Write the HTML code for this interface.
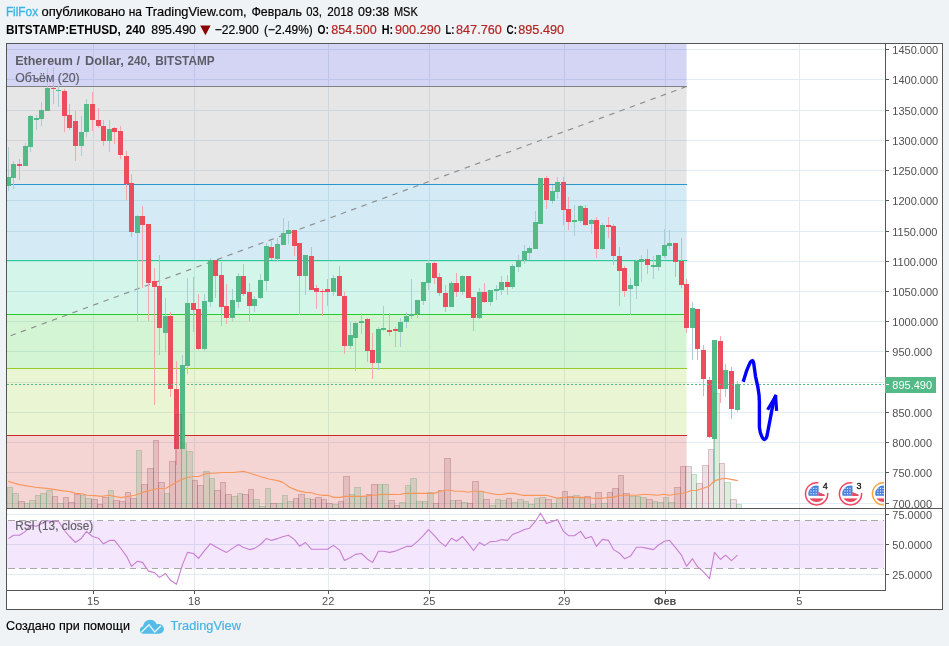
<!DOCTYPE html>
<html><head><meta charset="utf-8"><title>chart</title>
<style>html,body{margin:0;padding:0;background:#eff3f6;}body{width:949px;height:646px;overflow:hidden;position:relative;font-family:"Liberation Sans",sans-serif;}</style></head>
<body>
<svg width="949" height="646" viewBox="0 0 949 646" style="position:absolute;left:0;top:0;display:block;will-change:transform" font-family="Liberation Sans, sans-serif">
<rect x="0" y="0" width="949" height="646" fill="#eff3f6"/>
<rect x="6" y="43" width="937" height="567" fill="#fff"/>
<defs>
<clipPath id="cm"><rect x="7" y="44" width="877" height="464"/></clipPath>
<clipPath id="cr"><rect x="7" y="509" width="877" height="81"/></clipPath>
</defs>
<path d="M7 503.5H884 M7 472.5H884 M7 442.5H884 M7 412.5H884 M7 382.5H884 M7 351.5H884 M7 321.5H884 M7 291.5H884 M7 261.5H884 M7 231.5H884 M7 200.5H884 M7 170.5H884 M7 140.5H884 M7 110.5H884 M7 79.5H884 M7 49.5H884 M93.5 44V508 M93.5 509V590 M194.5 44V508 M194.5 509V590 M328.5 44V508 M328.5 509V590 M429.5 44V508 M429.5 509V590 M564.5 44V508 M564.5 509V590 M665.5 44V508 M665.5 509V590 M799.5 44V508 M799.5 509V590 M7 514.5H884 M7 544.5H884 M7 574.5H884" stroke="#e1ecf2" stroke-width="1" fill="none" shape-rendering="crispEdges"/>
<g clip-path="url(#cm)">
<rect x="6" y="-200" width="680.6" height="286.5" fill="rgba(40,40,204,0.2)"/>
<rect x="6" y="86.5" width="680.6" height="98.0" fill="rgba(128,128,128,0.2)"/>
<rect x="6" y="184.5" width="680.6" height="76.0" fill="rgba(40,149,204,0.2)"/>
<rect x="6" y="260.5" width="680.6" height="54.0" fill="rgba(40,204,149,0.2)"/>
<rect x="6" y="314.5" width="680.6" height="54.0" fill="rgba(40,204,40,0.2)"/>
<rect x="6" y="368.5" width="680.6" height="67.0" fill="rgba(149,204,40,0.2)"/>
<rect x="6" y="435.5" width="680.6" height="108.10000000000002" fill="rgba(204,40,40,0.2)"/>
<path d="M6 86.5H686.6" stroke="rgb(128,128,128)" stroke-width="1" shape-rendering="crispEdges"/>
<path d="M6 184.5H686.6" stroke="rgb(40,149,204)" stroke-width="1" shape-rendering="crispEdges"/>
<path d="M6 260.5H686.6" stroke="rgb(40,204,149)" stroke-width="1" shape-rendering="crispEdges"/>
<path d="M6 314.5H686.6" stroke="rgb(40,204,40)" stroke-width="1" shape-rendering="crispEdges"/>
<path d="M6 368.5H686.6" stroke="rgb(149,204,40)" stroke-width="1" shape-rendering="crispEdges"/>
<path d="M6 435.5H686.6" stroke="rgb(204,40,40)" stroke-width="1" shape-rendering="crispEdges"/>
<path d="M686.6 86.5 L6 337.4" stroke="#8e8e8e" stroke-width="1.15" stroke-dasharray="5.5 5.5" fill="none"/>
<path d="M8.5 147V191 M13.5 161V189 M25.5 143V166 M30.5 115V152 M36.5 115V130 M41.5 102V126 M47.5 68V111 M58.5 86V107 M81.5 116V156 M86.5 99V137 M109.5 120V152 M137.5 215V321 M165.5 298V352 M182.5 355V449 M187.5 278V374 M204.5 294V351 M210.5 258V307 M232.5 289V322 M238.5 273V308 M254.5 296V312 M260.5 274V299 M266.5 243V291 M277.5 238V261 M283.5 218V245 M288.5 221V244 M305.5 255V295 M333.5 275V296 M350.5 322V349 M355.5 321V371 M361.5 313V334 M378.5 327V370 M383.5 306V331 M400.5 318V347 M406.5 312V328 M411.5 279V319 M417.5 300V318 M423.5 282V305 M428.5 260V290 M451.5 281V307 M462.5 275V295 M479.5 288V319 M490.5 290V306 M496.5 285V300 M501.5 276V295 M512.5 264V289 M518.5 255V272 M524.5 245V264 M529.5 246V260 M535.5 211V249 M540.5 178V224 M552.5 185V204 M557.5 177V199 M574.5 205V236 M580.5 205V223 M591.5 219V234 M602.5 223V250 M630.5 278V315 M636.5 260V299 M641.5 255V282 M653.5 256V279 M658.5 255V271 M664.5 229V258 M669.5 230V249 M692.5 302V360 M714.5 340V483 M725.5 364V397 M737.5 381V412" stroke="#a9cdd3" stroke-width="1" shape-rendering="crispEdges"/>
<path d="M19.5 159V180 M53.5 67V104 M64.5 89V132 M69.5 104V130 M75.5 111V161 M92.5 92V131 M98.5 108V128 M103.5 120V146 M114.5 127V144 M120.5 126V159 M126.5 151V200 M131.5 174V237 M142.5 206V288 M148.5 224V321 M154.5 268V405 M159.5 255V355 M170.5 312V397 M176.5 361V465 M193.5 277V332 M198.5 294V350 M215.5 260V298 M221.5 262V326 M226.5 284V324 M243.5 264V296 M249.5 283V321 M271.5 241V260 M294.5 230V256 M299.5 243V315 M311.5 247V290 M316.5 285V309 M322.5 289V316 M327.5 279V306 M339.5 266V296 M344.5 292V354 M367.5 318V362 M372.5 333V379 M389.5 313V336 M395.5 327V347 M434.5 262V284 M439.5 273V296 M445.5 285V312 M456.5 273V297 M468.5 276V298 M473.5 297V331 M484.5 283V303 M507.5 275V295 M546.5 176V209 M563.5 177V225 M568.5 197V230 M585.5 205V226 M596.5 217V258 M608.5 217V238 M613.5 224V265 M619.5 247V306 M624.5 266V297 M647.5 249V274 M675.5 243V277 M681.5 238V288 M686.5 279V333 M697.5 309V360 M703.5 345V396 M709.5 377V438 M720.5 336V403 M731.5 367V419" stroke="#f5a6ae" stroke-width="1" shape-rendering="crispEdges"/>
<path d="M6 177h5V186h-5z M11 164h5V178h-5z M23 146h5V166h-5z M28 116h5V147h-5z M34 118h5V120h-5z M39 110h5V119h-5z M45 88h5V111h-5z M56 90h5V91h-5z M79 132h5V146h-5z M84 104h5V132h-5z M107 129h5V141h-5z M135 216h5V233h-5z M163 316h5V333h-5z M180 365h5V449h-5z M185 303h5V366h-5z M202 301h5V349h-5z M208 260h5V302h-5z M230 300h5V318h-5z M236 276h5V302h-5z M252 299h5V306h-5z M258 280h5V298h-5z M264 246h5V281h-5z M275 244h5V259h-5z M281 233h5V245h-5z M286 230h5V234h-5z M303 255h5V276h-5z M331 278h5V292h-5z M348 335h5V346h-5z M353 323h5V338h-5z M359 321h5V323h-5z M376 329h5V363h-5z M381 328h5V330h-5z M398 322h5V332h-5z M404 316h5V322h-5z M409 314h5V316h-5z M415 300h5V314h-5z M421 282h5V301h-5z M426 263h5V283h-5z M449 283h5V307h-5z M460 276h5V292h-5z M477 292h5V318h-5z M488 290h5V302h-5z M494 289h5V291h-5z M499 282h5V290h-5z M510 266h5V287h-5z M516 260h5V267h-5z M522 251h5V260h-5z M527 248h5V253h-5z M533 222h5V249h-5z M538 178h5V224h-5z M550 191h5V201h-5z M555 182h5V192h-5z M572 220h5V222h-5z M578 206h5V221h-5z M589 220h5V224h-5z M600 225h5V249h-5z M628 285h5V289h-5z M634 261h5V286h-5z M639 259h5V262h-5z M651 265h5V267h-5z M656 255h5V267h-5z M662 245h5V256h-5z M667 243h5V246h-5z M690 308h5V328h-5z M712 340h5V439h-5z M723 370h5V389h-5z M735 384h5V410h-5z" fill="#53b987" shape-rendering="crispEdges"/>
<path d="M17 164h5V166h-5z M51 88h5V89h-5z M62 91h5V116h-5z M67 115h5V128h-5z M73 121h5V146h-5z M90 104h5V120h-5z M96 120h5V126h-5z M101 126h5V141h-5z M112 128h5V132h-5z M118 131h5V155h-5z M124 156h5V184h-5z M129 183h5V232h-5z M140 216h5V225h-5z M146 224h5V283h-5z M152 281h5V287h-5z M157 286h5V328h-5z M168 316h5V389h-5z M174 389h5V449h-5z M191 303h5V310h-5z M196 309h5V349h-5z M213 260h5V276h-5z M219 275h5V307h-5z M224 306h5V318h-5z M241 276h5V294h-5z M247 292h5V306h-5z M269 247h5V258h-5z M292 230h5V246h-5z M297 243h5V276h-5z M309 256h5V290h-5z M314 288h5V292h-5z M320 291h5V292h-5z M325 289h5V292h-5z M337 276h5V296h-5z M342 296h5V346h-5z M365 319h5V351h-5z M370 350h5V363h-5z M387 330h5V332h-5z M393 329h5V331h-5z M432 263h5V278h-5z M437 277h5V293h-5z M443 293h5V307h-5z M454 283h5V292h-5z M466 276h5V298h-5z M471 297h5V318h-5z M482 292h5V302h-5z M505 282h5V287h-5z M544 178h5V200h-5z M561 182h5V210h-5z M566 209h5V222h-5z M583 208h5V225h-5z M594 220h5V249h-5z M606 225h5V227h-5z M611 226h5V256h-5z M617 256h5V271h-5z M622 268h5V291h-5z M645 259h5V265h-5z M673 243h5V262h-5z M679 261h5V285h-5z M684 284h5V328h-5z M695 309h5V349h-5z M701 350h5V379h-5z M707 380h5V437h-5z M718 341h5V389h-5z M729 371h5V409h-5z" fill="#eb4d5c" shape-rendering="crispEdges"/>
<rect x="7.5" y="487.5" width="5" height="21" fill="rgba(90,160,100,0.2)" stroke="rgba(90,160,100,0.3)" stroke-width="1"/>
<rect x="12.5" y="493.5" width="6" height="15" fill="rgba(90,160,100,0.2)" stroke="rgba(90,160,100,0.3)" stroke-width="1"/>
<rect x="18.5" y="501.5" width="6" height="7" fill="rgba(150,75,87,0.17)" stroke="rgba(150,75,87,0.3)" stroke-width="1"/>
<rect x="24.5" y="503.5" width="5" height="5" fill="rgba(90,160,100,0.2)" stroke="rgba(90,160,100,0.3)" stroke-width="1"/>
<rect x="29.5" y="500.5" width="6" height="8" fill="rgba(90,160,100,0.2)" stroke="rgba(90,160,100,0.3)" stroke-width="1"/>
<rect x="35.5" y="495.5" width="5" height="13" fill="rgba(90,160,100,0.2)" stroke="rgba(90,160,100,0.3)" stroke-width="1"/>
<rect x="40.5" y="493.5" width="6" height="15" fill="rgba(90,160,100,0.2)" stroke="rgba(90,160,100,0.3)" stroke-width="1"/>
<rect x="46.5" y="490.5" width="6" height="18" fill="rgba(90,160,100,0.2)" stroke="rgba(90,160,100,0.3)" stroke-width="1"/>
<rect x="52.5" y="496.5" width="5" height="12" fill="rgba(150,75,87,0.17)" stroke="rgba(150,75,87,0.3)" stroke-width="1"/>
<rect x="57.5" y="503.5" width="6" height="5" fill="rgba(90,160,100,0.2)" stroke="rgba(90,160,100,0.3)" stroke-width="1"/>
<rect x="63.5" y="497.5" width="5" height="11" fill="rgba(150,75,87,0.17)" stroke="rgba(150,75,87,0.3)" stroke-width="1"/>
<rect x="68.5" y="502.5" width="6" height="6" fill="rgba(150,75,87,0.17)" stroke="rgba(150,75,87,0.3)" stroke-width="1"/>
<rect x="74.5" y="494.5" width="6" height="14" fill="rgba(150,75,87,0.17)" stroke="rgba(150,75,87,0.3)" stroke-width="1"/>
<rect x="80.5" y="495.5" width="5" height="13" fill="rgba(90,160,100,0.2)" stroke="rgba(90,160,100,0.3)" stroke-width="1"/>
<rect x="85.5" y="498.5" width="6" height="10" fill="rgba(90,160,100,0.2)" stroke="rgba(90,160,100,0.3)" stroke-width="1"/>
<rect x="91.5" y="499.5" width="6" height="9" fill="rgba(150,75,87,0.17)" stroke="rgba(150,75,87,0.3)" stroke-width="1"/>
<rect x="97.5" y="504.5" width="5" height="4" fill="rgba(150,75,87,0.17)" stroke="rgba(150,75,87,0.3)" stroke-width="1"/>
<rect x="102.5" y="497.5" width="6" height="11" fill="rgba(150,75,87,0.17)" stroke="rgba(150,75,87,0.3)" stroke-width="1"/>
<rect x="108.5" y="490.5" width="5" height="18" fill="rgba(90,160,100,0.2)" stroke="rgba(90,160,100,0.3)" stroke-width="1"/>
<rect x="113.5" y="500.5" width="6" height="8" fill="rgba(150,75,87,0.17)" stroke="rgba(150,75,87,0.3)" stroke-width="1"/>
<rect x="119.5" y="501.5" width="6" height="7" fill="rgba(150,75,87,0.17)" stroke="rgba(150,75,87,0.3)" stroke-width="1"/>
<rect x="125.5" y="492.5" width="5" height="16" fill="rgba(150,75,87,0.17)" stroke="rgba(150,75,87,0.3)" stroke-width="1"/>
<rect x="130.5" y="498.5" width="6" height="10" fill="rgba(150,75,87,0.17)" stroke="rgba(150,75,87,0.3)" stroke-width="1"/>
<rect x="136.5" y="450.5" width="5" height="58" fill="rgba(90,160,100,0.2)" stroke="rgba(90,160,100,0.3)" stroke-width="1"/>
<rect x="141.5" y="484.5" width="6" height="24" fill="rgba(150,75,87,0.17)" stroke="rgba(150,75,87,0.3)" stroke-width="1"/>
<rect x="147.5" y="468.5" width="6" height="40" fill="rgba(150,75,87,0.17)" stroke="rgba(150,75,87,0.3)" stroke-width="1"/>
<rect x="153.5" y="440.5" width="5" height="68" fill="rgba(150,75,87,0.17)" stroke="rgba(150,75,87,0.3)" stroke-width="1"/>
<rect x="158.5" y="482.5" width="6" height="26" fill="rgba(150,75,87,0.17)" stroke="rgba(150,75,87,0.3)" stroke-width="1"/>
<rect x="164.5" y="493.5" width="5" height="15" fill="rgba(90,160,100,0.2)" stroke="rgba(90,160,100,0.3)" stroke-width="1"/>
<rect x="169.5" y="461.5" width="6" height="47" fill="rgba(150,75,87,0.17)" stroke="rgba(150,75,87,0.3)" stroke-width="1"/>
<rect x="175.5" y="414.5" width="6" height="94" fill="rgba(150,75,87,0.17)" stroke="rgba(150,75,87,0.3)" stroke-width="1"/>
<rect x="181.5" y="443.5" width="5" height="65" fill="rgba(90,160,100,0.2)" stroke="rgba(90,160,100,0.3)" stroke-width="1"/>
<rect x="186.5" y="451.5" width="6" height="57" fill="rgba(90,160,100,0.2)" stroke="rgba(90,160,100,0.3)" stroke-width="1"/>
<rect x="192.5" y="480.5" width="5" height="28" fill="rgba(150,75,87,0.17)" stroke="rgba(150,75,87,0.3)" stroke-width="1"/>
<rect x="197.5" y="485.5" width="6" height="23" fill="rgba(150,75,87,0.17)" stroke="rgba(150,75,87,0.3)" stroke-width="1"/>
<rect x="203.5" y="471.5" width="6" height="37" fill="rgba(90,160,100,0.2)" stroke="rgba(90,160,100,0.3)" stroke-width="1"/>
<rect x="209.5" y="478.5" width="5" height="30" fill="rgba(90,160,100,0.2)" stroke="rgba(90,160,100,0.3)" stroke-width="1"/>
<rect x="214.5" y="490.5" width="6" height="18" fill="rgba(150,75,87,0.17)" stroke="rgba(150,75,87,0.3)" stroke-width="1"/>
<rect x="220.5" y="482.5" width="5" height="26" fill="rgba(150,75,87,0.17)" stroke="rgba(150,75,87,0.3)" stroke-width="1"/>
<rect x="225.5" y="494.5" width="6" height="14" fill="rgba(150,75,87,0.17)" stroke="rgba(150,75,87,0.3)" stroke-width="1"/>
<rect x="231.5" y="496.5" width="6" height="12" fill="rgba(90,160,100,0.2)" stroke="rgba(90,160,100,0.3)" stroke-width="1"/>
<rect x="237.5" y="493.5" width="5" height="15" fill="rgba(90,160,100,0.2)" stroke="rgba(90,160,100,0.3)" stroke-width="1"/>
<rect x="242.5" y="494.5" width="6" height="14" fill="rgba(150,75,87,0.17)" stroke="rgba(150,75,87,0.3)" stroke-width="1"/>
<rect x="248.5" y="489.5" width="5" height="19" fill="rgba(150,75,87,0.17)" stroke="rgba(150,75,87,0.3)" stroke-width="1"/>
<rect x="253.5" y="499.5" width="6" height="9" fill="rgba(90,160,100,0.2)" stroke="rgba(90,160,100,0.3)" stroke-width="1"/>
<rect x="259.5" y="506.5" width="6" height="2" fill="rgba(90,160,100,0.2)" stroke="rgba(90,160,100,0.3)" stroke-width="1"/>
<rect x="265.5" y="488.5" width="5" height="20" fill="rgba(90,160,100,0.2)" stroke="rgba(90,160,100,0.3)" stroke-width="1"/>
<rect x="270.5" y="503.5" width="6" height="5" fill="rgba(150,75,87,0.17)" stroke="rgba(150,75,87,0.3)" stroke-width="1"/>
<rect x="276.5" y="503.5" width="6" height="5" fill="rgba(90,160,100,0.2)" stroke="rgba(90,160,100,0.3)" stroke-width="1"/>
<rect x="282.5" y="495.5" width="5" height="13" fill="rgba(90,160,100,0.2)" stroke="rgba(90,160,100,0.3)" stroke-width="1"/>
<rect x="287.5" y="501.5" width="6" height="7" fill="rgba(90,160,100,0.2)" stroke="rgba(90,160,100,0.3)" stroke-width="1"/>
<rect x="293.5" y="498.5" width="5" height="10" fill="rgba(150,75,87,0.17)" stroke="rgba(150,75,87,0.3)" stroke-width="1"/>
<rect x="298.5" y="494.5" width="6" height="14" fill="rgba(150,75,87,0.17)" stroke="rgba(150,75,87,0.3)" stroke-width="1"/>
<rect x="304.5" y="498.5" width="6" height="10" fill="rgba(90,160,100,0.2)" stroke="rgba(90,160,100,0.3)" stroke-width="1"/>
<rect x="310.5" y="499.5" width="5" height="9" fill="rgba(150,75,87,0.17)" stroke="rgba(150,75,87,0.3)" stroke-width="1"/>
<rect x="315.5" y="497.5" width="6" height="11" fill="rgba(150,75,87,0.17)" stroke="rgba(150,75,87,0.3)" stroke-width="1"/>
<rect x="321.5" y="499.5" width="5" height="9" fill="rgba(150,75,87,0.17)" stroke="rgba(150,75,87,0.3)" stroke-width="1"/>
<rect x="326.5" y="503.5" width="6" height="5" fill="rgba(150,75,87,0.17)" stroke="rgba(150,75,87,0.3)" stroke-width="1"/>
<rect x="332.5" y="504.5" width="6" height="4" fill="rgba(90,160,100,0.2)" stroke="rgba(90,160,100,0.3)" stroke-width="1"/>
<rect x="338.5" y="501.5" width="5" height="7" fill="rgba(150,75,87,0.17)" stroke="rgba(150,75,87,0.3)" stroke-width="1"/>
<rect x="343.5" y="476.5" width="6" height="32" fill="rgba(150,75,87,0.17)" stroke="rgba(150,75,87,0.3)" stroke-width="1"/>
<rect x="349.5" y="494.5" width="5" height="14" fill="rgba(90,160,100,0.2)" stroke="rgba(90,160,100,0.3)" stroke-width="1"/>
<rect x="354.5" y="487.5" width="6" height="21" fill="rgba(90,160,100,0.2)" stroke="rgba(90,160,100,0.3)" stroke-width="1"/>
<rect x="360.5" y="496.5" width="6" height="12" fill="rgba(90,160,100,0.2)" stroke="rgba(90,160,100,0.3)" stroke-width="1"/>
<rect x="366.5" y="494.5" width="5" height="14" fill="rgba(150,75,87,0.17)" stroke="rgba(150,75,87,0.3)" stroke-width="1"/>
<rect x="371.5" y="484.5" width="6" height="24" fill="rgba(150,75,87,0.17)" stroke="rgba(150,75,87,0.3)" stroke-width="1"/>
<rect x="377.5" y="484.5" width="5" height="24" fill="rgba(90,160,100,0.2)" stroke="rgba(90,160,100,0.3)" stroke-width="1"/>
<rect x="382.5" y="484.5" width="6" height="24" fill="rgba(90,160,100,0.2)" stroke="rgba(90,160,100,0.3)" stroke-width="1"/>
<rect x="388.5" y="500.5" width="6" height="8" fill="rgba(150,75,87,0.17)" stroke="rgba(150,75,87,0.3)" stroke-width="1"/>
<rect x="394.5" y="505.5" width="5" height="3" fill="rgba(150,75,87,0.17)" stroke="rgba(150,75,87,0.3)" stroke-width="1"/>
<rect x="399.5" y="502.5" width="6" height="6" fill="rgba(90,160,100,0.2)" stroke="rgba(90,160,100,0.3)" stroke-width="1"/>
<rect x="405.5" y="485.5" width="5" height="23" fill="rgba(90,160,100,0.2)" stroke="rgba(90,160,100,0.3)" stroke-width="1"/>
<rect x="410.5" y="478.5" width="6" height="30" fill="rgba(90,160,100,0.2)" stroke="rgba(90,160,100,0.3)" stroke-width="1"/>
<rect x="416.5" y="501.5" width="6" height="7" fill="rgba(90,160,100,0.2)" stroke="rgba(90,160,100,0.3)" stroke-width="1"/>
<rect x="422.5" y="501.5" width="5" height="7" fill="rgba(90,160,100,0.2)" stroke="rgba(90,160,100,0.3)" stroke-width="1"/>
<rect x="427.5" y="492.5" width="6" height="16" fill="rgba(90,160,100,0.2)" stroke="rgba(90,160,100,0.3)" stroke-width="1"/>
<rect x="433.5" y="503.5" width="5" height="5" fill="rgba(150,75,87,0.17)" stroke="rgba(150,75,87,0.3)" stroke-width="1"/>
<rect x="438.5" y="490.5" width="6" height="18" fill="rgba(150,75,87,0.17)" stroke="rgba(150,75,87,0.3)" stroke-width="1"/>
<rect x="444.5" y="458.5" width="6" height="50" fill="rgba(150,75,87,0.17)" stroke="rgba(150,75,87,0.3)" stroke-width="1"/>
<rect x="450.5" y="500.5" width="5" height="8" fill="rgba(90,160,100,0.2)" stroke="rgba(90,160,100,0.3)" stroke-width="1"/>
<rect x="455.5" y="500.5" width="6" height="8" fill="rgba(150,75,87,0.17)" stroke="rgba(150,75,87,0.3)" stroke-width="1"/>
<rect x="461.5" y="502.5" width="6" height="6" fill="rgba(90,160,100,0.2)" stroke="rgba(90,160,100,0.3)" stroke-width="1"/>
<rect x="467.5" y="503.5" width="5" height="5" fill="rgba(150,75,87,0.17)" stroke="rgba(150,75,87,0.3)" stroke-width="1"/>
<rect x="472.5" y="481.5" width="6" height="27" fill="rgba(150,75,87,0.17)" stroke="rgba(150,75,87,0.3)" stroke-width="1"/>
<rect x="478.5" y="491.5" width="5" height="17" fill="rgba(90,160,100,0.2)" stroke="rgba(90,160,100,0.3)" stroke-width="1"/>
<rect x="483.5" y="499.5" width="6" height="9" fill="rgba(150,75,87,0.17)" stroke="rgba(150,75,87,0.3)" stroke-width="1"/>
<rect x="489.5" y="505.5" width="6" height="3" fill="rgba(90,160,100,0.2)" stroke="rgba(90,160,100,0.3)" stroke-width="1"/>
<rect x="495.5" y="499.5" width="5" height="9" fill="rgba(90,160,100,0.2)" stroke="rgba(90,160,100,0.3)" stroke-width="1"/>
<rect x="500.5" y="500.5" width="6" height="8" fill="rgba(90,160,100,0.2)" stroke="rgba(90,160,100,0.3)" stroke-width="1"/>
<rect x="506.5" y="498.5" width="5" height="10" fill="rgba(150,75,87,0.17)" stroke="rgba(150,75,87,0.3)" stroke-width="1"/>
<rect x="511.5" y="502.5" width="6" height="6" fill="rgba(90,160,100,0.2)" stroke="rgba(90,160,100,0.3)" stroke-width="1"/>
<rect x="517.5" y="499.5" width="6" height="9" fill="rgba(90,160,100,0.2)" stroke="rgba(90,160,100,0.3)" stroke-width="1"/>
<rect x="523.5" y="501.5" width="5" height="7" fill="rgba(90,160,100,0.2)" stroke="rgba(90,160,100,0.3)" stroke-width="1"/>
<rect x="528.5" y="504.5" width="6" height="4" fill="rgba(90,160,100,0.2)" stroke="rgba(90,160,100,0.3)" stroke-width="1"/>
<rect x="534.5" y="498.5" width="5" height="10" fill="rgba(90,160,100,0.2)" stroke="rgba(90,160,100,0.3)" stroke-width="1"/>
<rect x="539.5" y="497.5" width="6" height="11" fill="rgba(90,160,100,0.2)" stroke="rgba(90,160,100,0.3)" stroke-width="1"/>
<rect x="545.5" y="499.5" width="6" height="9" fill="rgba(150,75,87,0.17)" stroke="rgba(150,75,87,0.3)" stroke-width="1"/>
<rect x="551.5" y="503.5" width="5" height="5" fill="rgba(90,160,100,0.2)" stroke="rgba(90,160,100,0.3)" stroke-width="1"/>
<rect x="556.5" y="498.5" width="6" height="10" fill="rgba(90,160,100,0.2)" stroke="rgba(90,160,100,0.3)" stroke-width="1"/>
<rect x="562.5" y="491.5" width="5" height="17" fill="rgba(150,75,87,0.17)" stroke="rgba(150,75,87,0.3)" stroke-width="1"/>
<rect x="567.5" y="496.5" width="6" height="12" fill="rgba(150,75,87,0.17)" stroke="rgba(150,75,87,0.3)" stroke-width="1"/>
<rect x="573.5" y="495.5" width="6" height="13" fill="rgba(90,160,100,0.2)" stroke="rgba(90,160,100,0.3)" stroke-width="1"/>
<rect x="579.5" y="498.5" width="5" height="10" fill="rgba(90,160,100,0.2)" stroke="rgba(90,160,100,0.3)" stroke-width="1"/>
<rect x="584.5" y="496.5" width="6" height="12" fill="rgba(150,75,87,0.17)" stroke="rgba(150,75,87,0.3)" stroke-width="1"/>
<rect x="590.5" y="504.5" width="5" height="4" fill="rgba(90,160,100,0.2)" stroke="rgba(90,160,100,0.3)" stroke-width="1"/>
<rect x="595.5" y="492.5" width="6" height="16" fill="rgba(150,75,87,0.17)" stroke="rgba(150,75,87,0.3)" stroke-width="1"/>
<rect x="601.5" y="503.5" width="6" height="5" fill="rgba(90,160,100,0.2)" stroke="rgba(90,160,100,0.3)" stroke-width="1"/>
<rect x="607.5" y="492.5" width="5" height="16" fill="rgba(150,75,87,0.17)" stroke="rgba(150,75,87,0.3)" stroke-width="1"/>
<rect x="612.5" y="488.5" width="6" height="20" fill="rgba(150,75,87,0.17)" stroke="rgba(150,75,87,0.3)" stroke-width="1"/>
<rect x="618.5" y="475.5" width="5" height="33" fill="rgba(150,75,87,0.17)" stroke="rgba(150,75,87,0.3)" stroke-width="1"/>
<rect x="623.5" y="493.5" width="6" height="15" fill="rgba(150,75,87,0.17)" stroke="rgba(150,75,87,0.3)" stroke-width="1"/>
<rect x="629.5" y="496.5" width="6" height="12" fill="rgba(90,160,100,0.2)" stroke="rgba(90,160,100,0.3)" stroke-width="1"/>
<rect x="635.5" y="496.5" width="5" height="12" fill="rgba(90,160,100,0.2)" stroke="rgba(90,160,100,0.3)" stroke-width="1"/>
<rect x="640.5" y="497.5" width="6" height="11" fill="rgba(90,160,100,0.2)" stroke="rgba(90,160,100,0.3)" stroke-width="1"/>
<rect x="646.5" y="499.5" width="6" height="9" fill="rgba(150,75,87,0.17)" stroke="rgba(150,75,87,0.3)" stroke-width="1"/>
<rect x="652.5" y="501.5" width="5" height="7" fill="rgba(90,160,100,0.2)" stroke="rgba(90,160,100,0.3)" stroke-width="1"/>
<rect x="657.5" y="502.5" width="6" height="6" fill="rgba(90,160,100,0.2)" stroke="rgba(90,160,100,0.3)" stroke-width="1"/>
<rect x="663.5" y="497.5" width="5" height="11" fill="rgba(90,160,100,0.2)" stroke="rgba(90,160,100,0.3)" stroke-width="1"/>
<rect x="668.5" y="502.5" width="6" height="6" fill="rgba(90,160,100,0.2)" stroke="rgba(90,160,100,0.3)" stroke-width="1"/>
<rect x="674.5" y="487.5" width="6" height="21" fill="rgba(150,75,87,0.17)" stroke="rgba(150,75,87,0.3)" stroke-width="1"/>
<rect x="680.5" y="466.5" width="5" height="42" fill="rgba(150,75,87,0.17)" stroke="rgba(150,75,87,0.3)" stroke-width="1"/>
<rect x="685.5" y="466.5" width="6" height="42" fill="rgba(150,75,87,0.17)" stroke="rgba(150,75,87,0.3)" stroke-width="1"/>
<rect x="691.5" y="474.5" width="5" height="34" fill="rgba(90,160,100,0.2)" stroke="rgba(90,160,100,0.3)" stroke-width="1"/>
<rect x="696.5" y="483.5" width="6" height="25" fill="rgba(150,75,87,0.17)" stroke="rgba(150,75,87,0.3)" stroke-width="1"/>
<rect x="702.5" y="465.5" width="6" height="43" fill="rgba(150,75,87,0.17)" stroke="rgba(150,75,87,0.3)" stroke-width="1"/>
<rect x="708.5" y="449.5" width="5" height="59" fill="rgba(150,75,87,0.17)" stroke="rgba(150,75,87,0.3)" stroke-width="1"/>
<rect x="713.5" y="393.5" width="6" height="115" fill="rgba(90,160,100,0.2)" stroke="rgba(90,160,100,0.3)" stroke-width="1"/>
<rect x="719.5" y="463.5" width="5" height="45" fill="rgba(150,75,87,0.17)" stroke="rgba(150,75,87,0.3)" stroke-width="1"/>
<rect x="724.5" y="482.5" width="6" height="26" fill="rgba(90,160,100,0.2)" stroke="rgba(90,160,100,0.3)" stroke-width="1"/>
<rect x="730.5" y="499.5" width="6" height="9" fill="rgba(150,75,87,0.17)" stroke="rgba(150,75,87,0.3)" stroke-width="1"/>
<rect x="736.5" y="504.5" width="5" height="4" fill="rgba(90,160,100,0.2)" stroke="rgba(90,160,100,0.3)" stroke-width="1"/>
<polyline points="8.1,481.3 19.2,484.6 35.4,487.2 48.7,488.6 63.4,490.9 70.8,491.7 75.2,493.4 81.9,493.7 87.0,495.2 94.4,495.6 101.8,496.4 109.1,495.3 120.9,497.6 128.3,496.4 135.0,495.2 144.7,491.9 156.5,488.7 166.1,488.3 169.8,486.0 178.7,480.9 186.8,477.5 193.4,476.5 198.6,476.5 205.2,474.0 209.6,473.2 215.5,473.2 221.4,472.5 233.2,472.5 243.6,471.3 252.4,474.0 262.7,477.2 268.8,479.0 277.7,480.6 282.9,482.4 289.5,487.2 298.3,490.9 305.7,492.4 311.6,492.7 316.8,494.5 321.9,495.3 327.8,495.3 333.7,497.4 340.4,497.4 344.1,496.4 363.2,496.4 372.1,495.3 378.0,494.9 382.4,494.2 400.3,494.5 404.7,493.4 434.2,493.4 440.1,491.2 445.3,490.2 450.5,490.2 454.9,491.2 462.3,491.2 468.2,492.2 472.6,491.2 481.4,491.2 487.3,492.7 496.2,494.5 502.1,494.5 508.0,493.4 513.9,493.4 522.7,495.3 546.5,495.3 556.9,498.1 564.2,497.4 584.9,497.4 592.3,498.3 602.6,498.3 608.5,497.4 612.9,497.4 620.3,495.2 636.5,495.2 642.4,494.5 648.3,494.5 657.4,495.3 664.0,494.2 669.2,495.3 679.5,493.7 685.4,492.7 691.3,490.5 697.2,490.2 703.1,488.3 709.0,486.3 714.2,480.9 719.3,479.4 725.2,478.2 731.1,479.4 737.8,480.6" fill="none" stroke="#f8975a" stroke-width="1.15" stroke-linejoin="round"/>
<path d="M7 384.5H885" stroke="#53b987" stroke-width="1" stroke-dasharray="2 2" shape-rendering="crispEdges"/>
<path d="M743.2 381.7 L746.3 371.7 Q748.5 366 750.1 362.6 Q752.4 358.6 753.6 362.5 L755.5 376.3 L757.9 387.2 Q759.4 395 759.4 402 L759.4 427.4 Q760 433 761.7 436.2 Q764.4 442.5 766.8 436.7 L769.5 422.8 L771.8 410.4 L774.1 399.5 L776 395" fill="none" stroke="#0000fe" stroke-width="3.4" stroke-linecap="butt" stroke-linejoin="round"/>
<path d="M767.6 409.8 L775.6 396.2 L776.6 410.8" fill="none" stroke="#0000fe" stroke-width="3.2" stroke-linejoin="round"/>
<g transform="translate(816.6 493.8)"><path d="M11.06 -0.97A11.1 11.1 0 1 1 1.93 -10.93" fill="none" stroke="#f5405f" stroke-width="1.5"/><clipPath id="fc"><circle r="8.3"/></clipPath><g clip-path="url(#fc)"><rect x="-9" y="-9" width="18" height="18" fill="#fff"/><rect x="-9" y="-9" width="11" height="11" fill="#4c82dc"/><rect x="-6.2" y="-6.0" width="1.2" height="1.2" fill="#dfe9fb"/><rect x="-6.2" y="-3.4" width="1.2" height="1.2" fill="#dfe9fb"/><rect x="-6.2" y="-0.8" width="1.2" height="1.2" fill="#dfe9fb"/><rect x="-3.6" y="-6.0" width="1.2" height="1.2" fill="#dfe9fb"/><rect x="-3.6" y="-3.4" width="1.2" height="1.2" fill="#dfe9fb"/><rect x="-3.6" y="-0.8" width="1.2" height="1.2" fill="#dfe9fb"/><rect x="-1.0" y="-6.0" width="1.2" height="1.2" fill="#dfe9fb"/><rect x="-1.0" y="-3.4" width="1.2" height="1.2" fill="#dfe9fb"/><rect x="-1.0" y="-0.8" width="1.2" height="1.2" fill="#dfe9fb"/><path d="M2 -1.5 L9 2 L-9 2 L2 2Z" fill="#e8485f"/><path d="M2 -1.6 L9 1.2 V2.2 H2Z" fill="#e8485f"/><rect x="-9" y="4.6" width="18" height="6" fill="#e8485f"/></g><text x="6.1" y="-4.9" font-size="9" fill="#111" stroke="#111" stroke-width="0.3">4</text></g>
<g transform="translate(850.5 493.8)"><path d="M11.06 -0.97A11.1 11.1 0 1 1 1.93 -10.93" fill="none" stroke="#f5405f" stroke-width="1.5"/><g clip-path="url(#fc)"><rect x="-9" y="-9" width="18" height="18" fill="#fff"/><rect x="-9" y="-9" width="11" height="11" fill="#4c82dc"/><rect x="-6.2" y="-6.0" width="1.2" height="1.2" fill="#dfe9fb"/><rect x="-6.2" y="-3.4" width="1.2" height="1.2" fill="#dfe9fb"/><rect x="-6.2" y="-0.8" width="1.2" height="1.2" fill="#dfe9fb"/><rect x="-3.6" y="-6.0" width="1.2" height="1.2" fill="#dfe9fb"/><rect x="-3.6" y="-3.4" width="1.2" height="1.2" fill="#dfe9fb"/><rect x="-3.6" y="-0.8" width="1.2" height="1.2" fill="#dfe9fb"/><rect x="-1.0" y="-6.0" width="1.2" height="1.2" fill="#dfe9fb"/><rect x="-1.0" y="-3.4" width="1.2" height="1.2" fill="#dfe9fb"/><rect x="-1.0" y="-0.8" width="1.2" height="1.2" fill="#dfe9fb"/><path d="M2 -1.5 L9 2 L-9 2 L2 2Z" fill="#e8485f"/><path d="M2 -1.6 L9 1.2 V2.2 H2Z" fill="#e8485f"/><rect x="-9" y="4.6" width="18" height="6" fill="#e8485f"/></g><text x="6.1" y="-4.9" font-size="9" fill="#111" stroke="#111" stroke-width="0.3">3</text></g>
<g transform="translate(883.5 493.8)"><path d="M11.06 -0.97A11.1 11.1 0 1 1 1.93 -10.93" fill="none" stroke="#f7a43a" stroke-width="1.5"/><g clip-path="url(#fc)"><rect x="-9" y="-9" width="18" height="18" fill="#fff"/><rect x="-9" y="-9" width="11" height="11" fill="#4c82dc"/><rect x="-6.2" y="-6.0" width="1.2" height="1.2" fill="#dfe9fb"/><rect x="-6.2" y="-3.4" width="1.2" height="1.2" fill="#dfe9fb"/><rect x="-6.2" y="-0.8" width="1.2" height="1.2" fill="#dfe9fb"/><rect x="-3.6" y="-6.0" width="1.2" height="1.2" fill="#dfe9fb"/><rect x="-3.6" y="-3.4" width="1.2" height="1.2" fill="#dfe9fb"/><rect x="-3.6" y="-0.8" width="1.2" height="1.2" fill="#dfe9fb"/><rect x="-1.0" y="-6.0" width="1.2" height="1.2" fill="#dfe9fb"/><rect x="-1.0" y="-3.4" width="1.2" height="1.2" fill="#dfe9fb"/><rect x="-1.0" y="-0.8" width="1.2" height="1.2" fill="#dfe9fb"/><path d="M2 -1.5 L9 2 L-9 2 L2 2Z" fill="#e8485f"/><path d="M2 -1.6 L9 1.2 V2.2 H2Z" fill="#e8485f"/><rect x="-9" y="4.6" width="18" height="6" fill="#e8485f"/></g></g>
</g>
<g clip-path="url(#cr)">
<rect x="6" y="520.5" width="879" height="48.1" fill="rgba(170,60,230,0.13)"/>
<path d="M8 520.5H885" stroke="#a8a8a8" stroke-width="1" stroke-dasharray="6.5 4.57" shape-rendering="crispEdges"/>
<path d="M8 568.5H885" stroke="#a8a8a8" stroke-width="1" stroke-dasharray="6.5 4.57" shape-rendering="crispEdges"/>
<polyline points="8.5,538.6 13.5,535.3 19.5,535.3 25.5,531.4 30.5,525.4 36.5,526.3 41.5,523.4 47.5,520.7 53.5,521.5 58.5,521.5 64.5,530.5 69.5,536.5 75.5,542.5 81.5,538.2 86.5,531.4 92.5,536.5 98.5,538.2 103.5,543.8 109.5,540.4 114.5,540.4 120.5,548.0 126.5,556.1 131.5,566.3 137.5,561.2 142.5,562.4 148.5,571.1 154.5,572.6 159.5,577.4 165.5,573.5 170.5,580.3 176.5,584.2 182.5,564.6 187.5,552.4 193.5,553.5 198.5,558.3 204.5,550.6 210.5,543.7 215.5,546.7 221.5,550.1 226.5,552.4 232.5,548.4 238.5,544.5 243.5,547.6 249.5,549.6 254.5,548.4 260.5,544.5 266.5,538.4 271.5,540.4 277.5,538.6 283.5,536.5 288.5,535.3 294.5,539.6 299.5,546.2 305.5,542.5 311.5,549.3 316.5,549.3 322.5,549.3 327.5,549.3 333.5,545.4 339.5,550.1 344.5,560.4 350.5,557.5 355.5,554.4 361.5,553.5 367.5,559.2 372.5,562.4 378.5,551.3 383.5,551.3 389.5,552.4 395.5,551.1 400.5,549.0 406.5,546.4 411.5,546.4 417.5,541.3 423.5,535.3 428.5,529.7 434.5,535.7 439.5,541.6 445.5,546.4 451.5,538.2 456.5,541.3 462.5,536.5 468.5,543.8 473.5,550.5 479.5,542.5 484.5,545.4 490.5,541.6 496.5,541.3 501.5,539.6 507.5,540.4 512.5,534.5 518.5,532.2 524.5,529.5 529.5,528.2 535.5,521.2 540.5,513.2 546.5,523.4 552.5,521.5 557.5,519.5 563.5,531.4 568.5,535.7 574.5,535.7 580.5,531.4 585.5,538.6 591.5,536.5 596.5,546.4 602.5,539.4 608.5,540.4 613.5,549.6 619.5,553.2 624.5,558.7 630.5,556.1 636.5,547.2 641.5,547.2 647.5,548.4 653.5,549.6 658.5,545.0 664.5,541.3 669.5,540.3 675.5,547.6 681.5,555.2 686.5,566.3 692.5,558.7 697.5,566.7 703.5,571.8 709.5,578.6 714.5,552.4 720.5,559.5 725.5,555.2 731.5,560.7 737.5,555.2" fill="none" stroke="#c67fd2" stroke-width="1.1" stroke-linejoin="round"/>
</g>
<path d="M6.5 43.5H942.5V609.5H6.5Z M6.5 508.5H942.5 M6.5 590.5H885.5 M885.5 43.5V590.5 M886 503.5h3 M886 472.5h3 M886 442.5h3 M886 412.5h3 M886 382.5h3 M886 351.5h3 M886 321.5h3 M886 291.5h3 M886 261.5h3 M886 231.5h3 M886 200.5h3 M886 170.5h3 M886 140.5h3 M886 110.5h3 M886 79.5h3 M886 49.5h3 M886 514.5h3 M886 544.5h3 M886 574.5h3 M93.5 591v3 M194.5 591v3 M328.5 591v3 M429.5 591v3 M564.5 591v3 M665.5 591v3 M799.5 591v3" stroke="#555" stroke-width="1" fill="none" shape-rendering="crispEdges"/>
<g font-size="11" fill="#505050">
<text x="892.3" y="507.7">700.000</text>
<text x="892.3" y="476.7">750.000</text>
<text x="892.3" y="446.7">800.000</text>
<text x="892.3" y="416.7">850.000</text>
<text x="892.3" y="386.7">900.000</text>
<text x="892.3" y="355.7">950.000</text>
<text x="892.3" y="325.7">1000.000</text>
<text x="892.3" y="295.7">1050.000</text>
<text x="892.3" y="265.7">1100.000</text>
<text x="892.3" y="235.7">1150.000</text>
<text x="892.3" y="204.7">1200.000</text>
<text x="892.3" y="174.7">1250.000</text>
<text x="892.3" y="144.7">1300.000</text>
<text x="892.3" y="114.7">1350.000</text>
<text x="892.3" y="83.7">1400.000</text>
<text x="892.3" y="53.7">1450.000</text>
<text x="892.3" y="518.7">75.0000</text>
<text x="892.3" y="548.7">50.0000</text>
<text x="892.3" y="578.8">25.0000</text>
<text x="93.2" y="605" text-anchor="middle">15</text>
<text x="194.2" y="605" text-anchor="middle">18</text>
<text x="328.2" y="605" text-anchor="middle">22</text>
<text x="429.2" y="605" text-anchor="middle">25</text>
<text x="564.2" y="605" text-anchor="middle">29</text>
<text x="665.2" y="605" text-anchor="middle" font-weight="bold">Фев</text>
<text x="799.2" y="605" text-anchor="middle">5</text>
</g>
<rect x="885" y="377" width="51" height="16" fill="#53b987"/>
<text x="892.3" y="389" font-size="11" fill="#fff">895.490</text>
<path d="M886 384.5h3" stroke="#fff" stroke-width="1" shape-rendering="crispEdges"/>
<g opacity="0.9">
<text x="15.2" y="65.1" textLength="57.7" lengthAdjust="spacingAndGlyphs" font-size="12.6" fill="#505058" font-weight="bold" >Ethereum</text>
<text x="76.6" y="65.1" font-size="12.6" font-weight="bold" fill="#505058">/</text>
<text x="85" y="65.1" textLength="38.8" lengthAdjust="spacingAndGlyphs" font-size="12.6" fill="#505058" font-weight="bold" >Dollar,</text>
<text x="127.4" y="65.1" textLength="23" lengthAdjust="spacingAndGlyphs" font-size="12.6" fill="#505058" font-weight="bold" >240,</text>
<text x="155.3" y="65.1" textLength="59.3" lengthAdjust="spacingAndGlyphs" font-size="12.6" fill="#505058" font-weight="bold" >BITSTAMP</text>
<text x="15.2" y="82.2" textLength="64.5" lengthAdjust="spacingAndGlyphs" font-size="12.6" fill="#505058" font-weight="normal"  stroke="#505058" stroke-width="0.18">Объём (20)</text>
<text x="15.2" y="530" textLength="78" lengthAdjust="spacingAndGlyphs" font-size="12.6" fill="#505058" font-weight="normal"  stroke="#505058" stroke-width="0.18">RSI (13, close)</text>
</g>
<text x="5.9" y="15.9" textLength="32.2" lengthAdjust="spacingAndGlyphs" font-size="12.6" fill="#3bb3e4" font-weight="normal" stroke="#3bb3e4" stroke-width="0.35">FilFox</text>
<text x="41.5" y="15.9" textLength="83.8" lengthAdjust="spacingAndGlyphs" font-size="12.6" fill="#000" font-weight="normal"  stroke="#000" stroke-width="0.18">опубликовано</text>
<text x="128.7" y="15.9" textLength="13.3" lengthAdjust="spacingAndGlyphs" font-size="12.6" fill="#000" font-weight="normal"  stroke="#000" stroke-width="0.18">на</text>
<text x="145.4" y="15.9" textLength="101.3" lengthAdjust="spacingAndGlyphs" font-size="12.6" fill="#000" font-weight="normal"  stroke="#000" stroke-width="0.18">TradingView.com,</text>
<text x="251.4" y="15.9" textLength="50.5" lengthAdjust="spacingAndGlyphs" font-size="12.6" fill="#000" font-weight="normal"  stroke="#000" stroke-width="0.18">Февраль</text>
<text x="306.3" y="15.9" textLength="15.7" lengthAdjust="spacingAndGlyphs" font-size="12.6" fill="#000" font-weight="normal"  stroke="#000" stroke-width="0.18">03,</text>
<text x="327.2" y="15.9" textLength="26.2" lengthAdjust="spacingAndGlyphs" font-size="12.6" fill="#000" font-weight="normal"  stroke="#000" stroke-width="0.18">2018</text>
<text x="358" y="15.9" textLength="31.3" lengthAdjust="spacingAndGlyphs" font-size="12.6" fill="#000" font-weight="normal"  stroke="#000" stroke-width="0.18">09:38</text>
<text x="393.9" y="15.9" textLength="23.9" lengthAdjust="spacingAndGlyphs" font-size="12.6" fill="#000" font-weight="normal"  stroke="#000" stroke-width="0.18">MSK</text>
<text x="5.9" y="34.0" textLength="114.9" lengthAdjust="spacingAndGlyphs" font-size="12.6" fill="#000" font-weight="bold" >BITSTAMP:ETHUSD,</text>
<text x="125.7" y="34.0" textLength="19.7" lengthAdjust="spacingAndGlyphs" font-size="12.6" fill="#000" font-weight="bold" >240</text>
<text x="151.3" y="34.0" textLength="44.7" lengthAdjust="spacingAndGlyphs" font-size="12.6" fill="#000" font-weight="normal"  stroke="#000" stroke-width="0.18">895.490</text>
<path d="M200.2 25.6H210.6L205.4 35.2Z" fill="#8b0000"/>
<text x="214.7" y="34.0" textLength="44.1" lengthAdjust="spacingAndGlyphs" font-size="12.6" fill="#000" font-weight="normal"  stroke="#000" stroke-width="0.18">−22.900</text>
<text x="264.1" y="34.0" textLength="48.7" lengthAdjust="spacingAndGlyphs" font-size="12.6" fill="#000" font-weight="normal"  stroke="#000" stroke-width="0.18">(−2.49%)</text>
<text x="317.6" y="34.0" textLength="11.4" lengthAdjust="spacingAndGlyphs" font-size="12.6" fill="#000" font-weight="bold" >O:</text>
<text x="331.3" y="34.0" textLength="45.4" lengthAdjust="spacingAndGlyphs" font-size="12.6" fill="#b22222" font-weight="normal"  stroke="#b22222" stroke-width="0.18">854.500</text>
<text x="381.7" y="34.0" textLength="11.4" lengthAdjust="spacingAndGlyphs" font-size="12.6" fill="#000" font-weight="bold" >H:</text>
<text x="395.1" y="34.0" textLength="45.6" lengthAdjust="spacingAndGlyphs" font-size="12.6" fill="#b22222" font-weight="normal"  stroke="#b22222" stroke-width="0.18">900.290</text>
<text x="445.5" y="34.0" textLength="9" lengthAdjust="spacingAndGlyphs" font-size="12.6" fill="#000" font-weight="bold" >L:</text>
<text x="456.1" y="34.0" textLength="45.6" lengthAdjust="spacingAndGlyphs" font-size="12.6" fill="#b22222" font-weight="normal"  stroke="#b22222" stroke-width="0.18">847.760</text>
<text x="506.6" y="34.0" textLength="10.4" lengthAdjust="spacingAndGlyphs" font-size="12.6" fill="#000" font-weight="bold" >C:</text>
<text x="518.3" y="34.0" textLength="45.7" lengthAdjust="spacingAndGlyphs" font-size="12.6" fill="#b22222" font-weight="normal"  stroke="#b22222" stroke-width="0.18">895.490</text>
<text x="6.1" y="630.2" textLength="123.8" lengthAdjust="spacingAndGlyphs" font-size="12.9" fill="#000" font-weight="normal"  stroke="#000" stroke-width="0.18">Создано при помощи</text>
<g transform="translate(139.9 619.8)">
<path d="M3.8 14 C1.4 14 0 12.3 0 10.2 C0 8.2 1.4 6.8 3.2 6.5 C3.6 2.8 6.6 0 10.3 0 C13.3 0 15.9 1.9 16.9 4.6 C17.4 4.4 18 4.3 18.6 4.3 C21.6 4.3 24 6.5 24 9.3 C24 11.9 21.8 14 19.1 14 Z" fill="#54bce6"/>
<path d="M1.5 12.5 L9.1 4.9 L14.8 12.2 L21.1 5.9" fill="none" stroke="#e8f4fb" stroke-width="1.3" stroke-linejoin="miter"/>
</g>
<text x="170.5" y="629.7" textLength="70.4" lengthAdjust="spacingAndGlyphs" font-size="13" fill="#45b4e4" font-weight="normal"  stroke="#45b4e4" stroke-width="0.18">TradingView</text>
</svg>
</body></html>
